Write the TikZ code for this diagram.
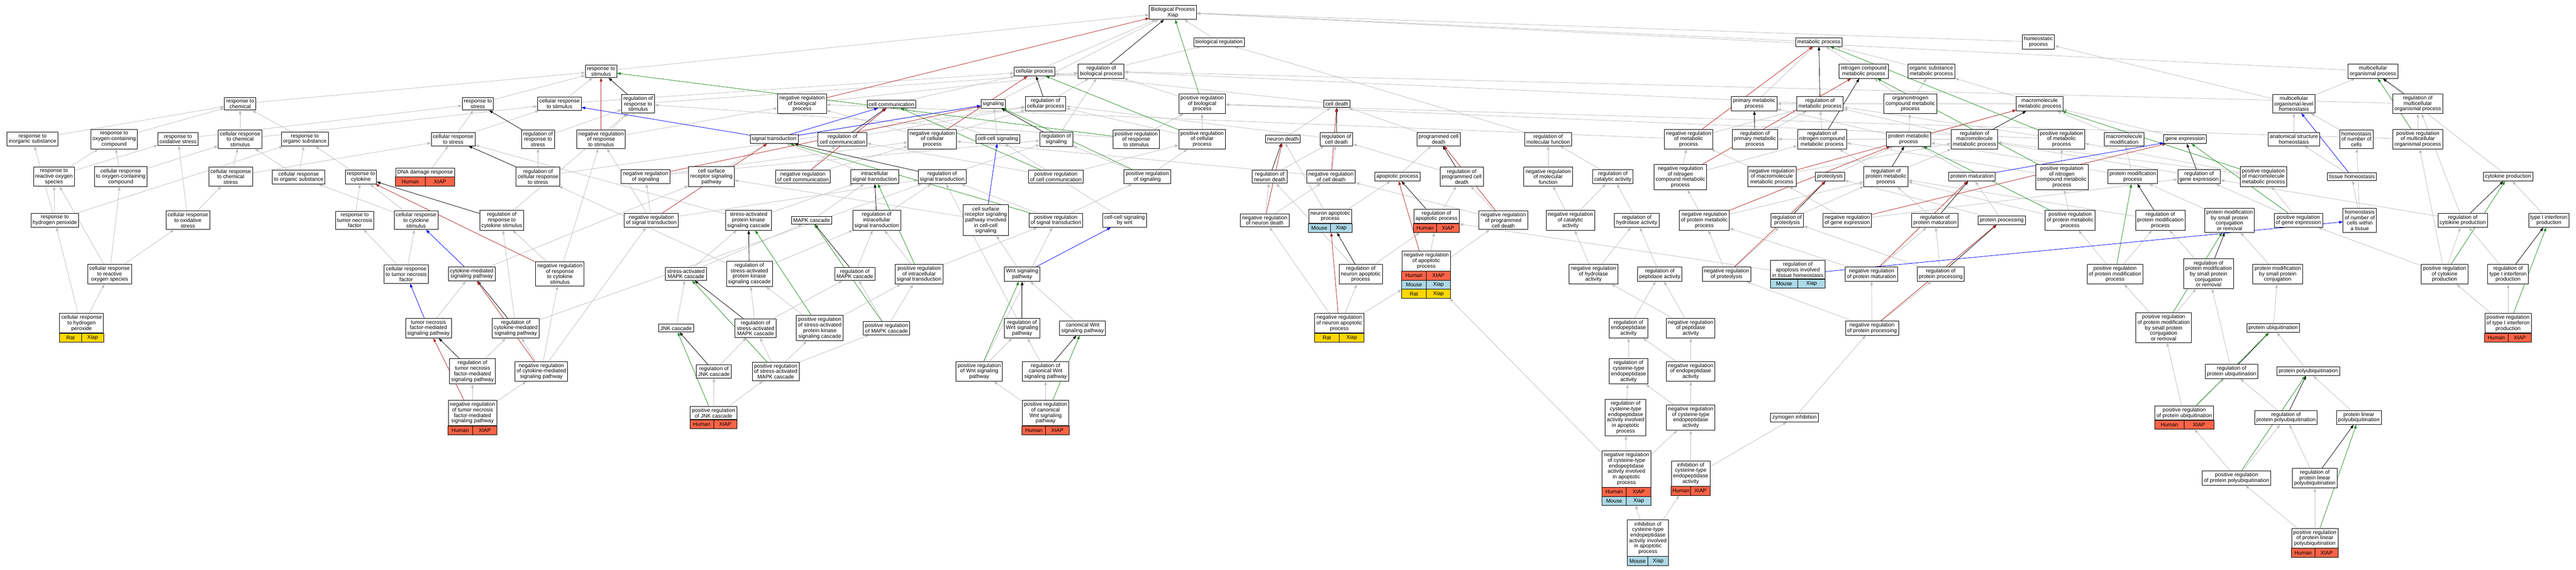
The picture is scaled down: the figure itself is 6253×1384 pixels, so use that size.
\documentclass[tikz,border=0pt]{standalone}
\usepackage{fontspec}
\setmainfont{Liberation Sans}
\usepackage{tikz}
\usetikzlibrary{arrows.meta, fit, backgrounds, calc}
\definecolor{human}{HTML}{FF6347}
\definecolor{mouse}{HTML}{ADD8E6}
\definecolor{rat}{HTML}{FFD700}
\definecolor{isagrey}{HTML}{BEBEBE}
\definecolor{negred}{HTML}{B22222}
\definecolor{posgreen}{HTML}{228B22}
\definecolor{partblue}{HTML}{0000FF}
\tikzstyle{goterm} = [draw=black, line width=1.1pt, fill=white, align=center, inner xsep=4pt, inner ysep=4.5pt, font=\fontsize{13pt}{13.4pt}\selectfont]
\tikzstyle{orgcell} = [draw=black, line width=1.1pt, inner sep=0pt, outer sep=0pt, minimum height=22pt, font=\fontsize{13pt}{13.4pt}\selectfont]
\tikzstyle{link} = [line width=1pt, -{Triangle[length=9pt,width=6.5pt]}]
\tikzstyle{isa} = [link, isagrey]
\tikzstyle{regl} = [link, black]
\tikzstyle{negl} = [link, negred]
\tikzstyle{posl} = [link, posgreen]
\tikzstyle{partl} = [link, partblue]
% one row of species / gene cells under a term
\newcommand{\orgrow}[6]{%
  \path let \p1=($(#1.east)-(#1.west)$) in
    node[orgcell, fill=#4, minimum width=0.5*\x1, anchor=north east] (#3l) at (#2) {#5}
    node[orgcell, fill=#4, minimum width=0.5*\x1, anchor=north west] (#3r) at (#2) {#6};}

\begin{document}
\begin{tikzpicture}[x=1pt,y=-1pt]
\useasboundingbox (0,0) rectangle (6253,1384);
% responses to chemicals
\node[goterm] (resp-chem) at (583,252) {response to\\chemical};
\node[goterm] (resp-inorg) at (79,338) {response to\\inorganic substance};
\node[goterm] (resp-oxcomp) at (277,338) {response to\\oxygen-containing\\compound};
\node[goterm] (resp-oxstress) at (432,338) {response to\\oxidative stress};
\node[goterm] (cr-chem) at (583,338) {cellular response\\to chemical\\stimulus};
\node[goterm] (resp-org) at (740,338) {response to\\organic substance};
\node[goterm] (resp-ros) at (131,429) {response to\\reactive oxygen\\species};
\node[goterm] (cr-oxcomp) at (293,429) {cellular response\\to oxygen-containing\\compound};
\node[goterm] (cr-chemstress) at (560,429) {cellular response\\to chemical\\stress};
\node[goterm] (cr-org) at (725,430) {cellular response\\to organic substance};
\node[goterm] (resp-cyto) at (876,430) {response to\\cytokine};
\node[goterm] (dna-t) at (1032,419) {DNA damage response};
\orgrow{dna-t}{dna-t.south}{dna-h}{human}{Human}{XIAP}
\node[fit=(dna-t)(dna-hl)(dna-hr), inner sep=0pt] (dna) {};
\node[goterm] (resp-h2o2) at (133,535) {response to\\hydrogen peroxide};
\node[goterm] (cr-oxstress) at (456,535) {cellular response\\to oxidative\\stress};
\node[goterm] (resp-tnf) at (861,535) {response to\\tumor necrosis\\factor};
\node[goterm] (cr-cyto) at (1010,535) {cellular response\\to cytokine\\stimulus};
\node[goterm] (cr-ros) at (266,666) {cellular response\\to reactive\\oxygen species};
\node[goterm] (cr-tnf) at (986,666) {cellular response\\to tumor necrosis\\factor};
\node[goterm] (cr-h2o2-t) at (198,785) {cellular response\\to hydrogen\\peroxide};
\orgrow{cr-h2o2-t}{cr-h2o2-t.south}{cr-h2o2-r}{rat}{Rat}{Xiap}
\node[fit=(cr-h2o2-t)(cr-h2o2-rl)(cr-h2o2-rr), inner sep=0pt] (cr-h2o2) {};
\node[goterm] (tnf-sig) at (1040,797) {tumor necrosis\\factor-mediated\\signaling pathway};
% stimulus and signalling
\node[goterm] (resp-stim) at (1459,173) {response to\\stimulus};
\node[goterm] (resp-stress) at (1160,252) {response to\\stress};
\node[goterm] (cr-stim) at (1358,252) {cellular response\\to stimulus};
\node[goterm] (reg-resp-stim) at (1549,252) {regulation of\\response to\\stimulus};
\node[goterm] (neg-bio) at (1947,252) {negative regulation\\of biological\\process};
\node[goterm] (cr-stress) at (1100,338) {cellular response\\to stress};
\node[goterm] (reg-resp-stress) at (1306,338) {regulation of\\response to\\stress};
\node[goterm] (neg-resp-stim) at (1459,338) {negative regulation\\of response\\to stimulus};
\node[goterm] (sig-trans) at (1879,338) {signal transduction};
\node[goterm] (reg-cellcomm) at (2045,338) {regulation of\\cell communication};
\node[goterm] (reg-cr-stress) at (1306,429) {regulation of\\cellular response\\to stress};
\node[goterm] (neg-sig) at (1567,429) {negative regulation\\of signaling};
\node[goterm] (csr) at (1727,429) {cell surface\\receptor signaling\\pathway};
\node[goterm] (neg-cellcomm) at (1949,429) {negative regulation\\of cell communication};
\node[goterm] (intracell) at (2123,429) {intracellular\\signal transduction};
\node[goterm] (reg-resp-cyto) at (1218,535) {regulation of\\response to\\cytokine stimulus};
\node[goterm] (neg-sigtrans) at (1581,535) {negative regulation\\of signal transduction};
\node[goterm] (sapk) at (1817,535) {stress-activated\\protein kinase\\signaling cascade};
\node[goterm] (mapk) at (1970,535) {MAPK cascade};
\node[goterm] (reg-intracell) at (2128,535) {regulation of\\intracellular\\signal transduction};
\node[goterm] (cyto-sig) at (1145,665) {cytokine-mediated\\signaling pathway};
\node[goterm] (neg-resp-cyto) at (1359,665) {negative regulation\\of response\\to cytokine\\stimulus};
\node[goterm] (samapk) at (1665,665) {stress-activated\\MAPK cascade};
\node[goterm] (reg-sapk) at (1819,665) {regulation of\\stress-activated\\protein kinase\\signaling cascade};
\node[goterm] (reg-mapk) at (2075,665) {regulation of\\MAPK cascade};
\node[goterm] (reg-cytosig) at (1252,797) {regulation of\\cytokine-mediated\\signaling pathway};
\node[goterm] (reg-tnfsig) at (1147,902) {regulation of\\tumor necrosis\\factor-mediated\\signaling pathway};
\node[goterm] (neg-cytosig) at (1314,902) {negative regulation\\of cytokine-mediated\\signaling pathway};
\node[goterm] (neg-tnfsig-t) at (1147,1003) {negative regulation\\of tumor necrosis\\factor-mediated\\signaling pathway};
\orgrow{neg-tnfsig-t}{neg-tnfsig-t.south}{neg-tnfsig-h}{human}{Human}{XIAP}
\node[fit=(neg-tnfsig-t)(neg-tnfsig-hl)(neg-tnfsig-hr), inner sep=0pt] (neg-tnfsig) {};
\node[goterm] (jnk) at (1641,797) {JNK cascade};
\node[goterm] (reg-samapk) at (1834,797) {regulation of\\stress-activated\\MAPK cascade};
\node[goterm] (pos-sapk) at (1990,797) {positive regulation\\of stress-activated\\protein kinase\\signaling cascade};
\node[goterm] (reg-jnk) at (1733,902) {regulation of\\JNK cascade};
\node[goterm] (pos-samapk) at (1883,902) {positive regulation\\of stress-activated\\MAPK cascade};
\node[goterm] (pos-jnk-t) at (1732,1003) {positive regulation\\of JNK cascade};
\orgrow{pos-jnk-t}{pos-jnk-t.south}{pos-jnk-h}{human}{Human}{XIAP}
\node[fit=(pos-jnk-t)(pos-jnk-hl)(pos-jnk-hr), inner sep=0pt] (pos-jnk) {};
\node[goterm] (pos-mapk) at (2152,797) {positive regulation\\of MAPK cascade};
% top of the graph
\node[goterm] (bp) at (2847,30) {Biological Process\\Xiap};
\node[goterm] (bio-reg) at (2959,102) {biological regulation};
\node[goterm] (cell-proc) at (2511,174) {cellular process};
\node[goterm] (reg-bio) at (2673,173) {regulation of\\biological process};
\node[goterm] (cell-comm) at (2164,253) {cell communication};
\node[goterm] (signaling) at (2411,252) {signaling};
\node[goterm] (reg-cell) at (2538,252) {regulation of\\cellular process};
\node[goterm] (pos-bio) at (2918,252) {positive regulation\\of biological\\process};
\node[goterm] (neg-cell) at (2263,338) {negative regulation\\of cellular\\process};
\node[goterm] (cell-cell) at (2422,338) {cell-cell signaling};
\node[goterm] (reg-sig) at (2564,338) {regulation of\\signaling};
\node[goterm] (pos-resp-stim) at (2758,338) {positive regulation\\of response\\to stimulus};
\node[goterm] (pos-cell) at (2918,338) {positive regulation\\of cellular\\process};
\node[goterm] (neuron-death) at (3114,338) {neuron death};
\node[goterm] (reg-sigtrans) at (2287,429) {regulation of\\signal transduction};
\node[goterm] (pos-cellcomm) at (2563,429) {positive regulation\\of cell communication};
\node[goterm] (pos-sig) at (2785,429) {positive regulation\\of signaling};
\node[goterm] (reg-ndeath) at (3082,429) {regulation of\\neuron death};
\node[goterm] (csr-cc) at (2393,535) {cell surface\\receptor signaling\\pathway involved\\in cell-cell\\signaling};
\node[goterm] (pos-sigtrans) at (2563,535) {positive regulation\\of signal transduction};
\node[goterm] (cc-wnt) at (2730,535) {cell-cell signaling\\by wnt};
\node[goterm] (neg-ndeath) at (3070,535) {negative regulation\\of neuron death};
\node[goterm] (pos-intracell) at (2231,666) {positive regulation\\of intracellular\\signal transduction};
\node[goterm] (wnt) at (2481,666) {Wnt signaling\\pathway};
\node[goterm] (reg-wnt) at (2481,797) {regulation of\\Wnt signaling\\pathway};
\node[goterm] (can-wnt) at (2628,797) {canonical Wnt\\signaling pathway};
\node[goterm] (pos-wnt) at (2377,902) {positive regulation\\of Wnt signaling\\pathway};
\node[goterm] (reg-canwnt) at (2538,902) {regulation of\\canonical Wnt\\signaling pathway};
\node[goterm] (pos-canwnt-t) at (2538,1003) {positive regulation\\of canonical\\Wnt signaling\\pathway};
\orgrow{pos-canwnt-t}{pos-canwnt-t.south}{pos-canwnt-h}{human}{Human}{XIAP}
\node[fit=(pos-canwnt-t)(pos-canwnt-hl)(pos-canwnt-hr), inner sep=0pt] (pos-canwnt) {};
% cell death and apoptosis
\node[goterm] (cell-death) at (3245,252) {cell death};
\node[goterm] (reg-cdeath) at (3244,338) {regulation of\\cell death};
\node[goterm] (pcd) at (3492,338) {programmed cell\\death};
\node[goterm] (reg-mf) at (3758,338) {regulation of\\molecular function};
\node[goterm] (neg-met) at (4099,338) {negative regulation\\of metabolic\\process};
\node[goterm] (neg-cdeath) at (3231,429) {negative regulation\\of cell death};
\node[goterm] (apop) at (3392,429) {apoptotic process};
\node[goterm] (reg-pcd) at (3548,429) {regulation of\\programmed cell\\death};
\node[goterm] (neg-mf) at (3758,429) {negative regulation\\of molecular\\function};
\node[goterm] (reg-cat) at (3915,429) {regulation of\\catalytic activity};
\node[goterm] (neg-ncmp) at (4079,430) {negative regulation\\of nitrogen\\compound metabolic\\process};
\node[goterm] (nap-t) at (3229,525) {neuron apoptotic\\process};
\orgrow{nap-t}{nap-t.south}{nap-m}{mouse}{Mouse}{Xiap}
\node[fit=(nap-t)(nap-ml)(nap-mr), inner sep=0pt] (nap) {};
\node[goterm] (reg-apop-t) at (3487,525) {regulation of\\apoptotic process};
\orgrow{reg-apop-t}{reg-apop-t.south}{reg-apop-h}{human}{Human}{XIAP}
\node[fit=(reg-apop-t)(reg-apop-hl)(reg-apop-hr), inner sep=0pt] (reg-apop) {};
\node[goterm] (neg-pcd) at (3649,535) {negative regulation\\of programmed\\cell death};
\node[goterm] (neg-cat) at (3812,535) {negative regulation\\of catalytic\\activity};
\node[goterm] (reg-hyd) at (3973,535) {regulation of\\hydrolase activity};
\node[goterm] (neg-prot) at (4137,535) {negative regulation\\of protein metabolic\\process};
\node[goterm] (reg-nap) at (3303,666) {regulation of\\neuron apoptotic\\process};
\node[goterm] (neg-apop-t) at (3462,634) {negative regulation\\of apoptotic\\process};
\orgrow{neg-apop-t}{neg-apop-t.south}{neg-apop-h}{human}{Human}{XIAP}
\orgrow{neg-apop-t}{neg-apop-hl.south east}{neg-apop-m}{mouse}{Mouse}{Xiap}
\orgrow{neg-apop-t}{neg-apop-ml.south east}{neg-apop-r}{rat}{Rat}{Xiap}
\node[fit=(neg-apop-t)(neg-apop-rl)(neg-apop-rr), inner sep=0pt] (neg-apop) {};
\node[goterm] (neg-hyd) at (3868,666) {negative regulation\\of hydrolase\\activity};
\node[goterm] (reg-pep) at (4029,666) {regulation of\\peptidase activity};
\node[goterm] (neg-proteolysis) at (4191,666) {negative regulation\\of proteolysis};
\node[goterm] (neg-nap-t) at (3251,785) {negative regulation\\of neuron apoptotic\\process};
\orgrow{neg-nap-t}{neg-nap-t.south}{neg-nap-r}{rat}{Rat}{Xiap}
\node[fit=(neg-nap-t)(neg-nap-rl)(neg-nap-rr), inner sep=0pt] (neg-nap) {};
\node[goterm] (reg-endo) at (3953,797) {regulation of\\endopeptidase\\activity};
\node[goterm] (neg-pep) at (4104,797) {negative regulation\\of peptidase\\activity};
\node[goterm] (reg-cysendo) at (3953,902) {regulation of\\cysteine-type\\endopeptidase\\activity};
\node[goterm] (neg-endo) at (4104,902) {negative regulation\\of endopeptidase\\activity};
\node[goterm] (reg-cysapop) at (3946,1014) {regulation of\\cysteine-type\\endopeptidase\\activity involved\\in apoptotic\\process};
\node[goterm] (neg-cysendo) at (4104,1014) {negative regulation\\of cysteine-type\\endopeptidase\\activity};
\node[goterm] (neg-cysapop-t) at (3948,1139) {negative regulation\\of cysteine-type\\endopeptidase\\activity involved\\in apoptotic\\process};
\orgrow{neg-cysapop-t}{neg-cysapop-t.south}{neg-cysapop-h}{human}{Human}{XIAP}
\orgrow{neg-cysapop-t}{neg-cysapop-hl.south east}{neg-cysapop-m}{mouse}{Mouse}{Xiap}
\node[fit=(neg-cysapop-t)(neg-cysapop-ml)(neg-cysapop-mr), inner sep=0pt] (neg-cysapop) {};
\node[goterm] (inh-cysendo-t) at (4104,1150) {inhibition of\\cysteine-type\\endopeptidase\\activity};
\orgrow{inh-cysendo-t}{inh-cysendo-t.south}{inh-cysendo-h}{human}{Human}{XIAP}
\node[fit=(inh-cysendo-t)(inh-cysendo-hl)(inh-cysendo-hr), inner sep=0pt] (inh-cysendo) {};
\node[goterm] (inh-cysapop-t) at (4000,1307) {inhibition of\\cysteine-type\\endopeptidase\\activity involved\\in apoptotic\\process};
\orgrow{inh-cysapop-t}{inh-cysapop-t.south}{inh-cysapop-m}{mouse}{Mouse}{Xiap}
\node[fit=(inh-cysapop-t)(inh-cysapop-ml)(inh-cysapop-mr), inner sep=0pt] (inh-cysapop) {};
% metabolism and proteins
\node[goterm] (met-proc) at (4415,102) {metabolic process};
\node[goterm] (homeo) at (4948,102) {homeostatic\\process};
\node[goterm] (ncmp) at (4524,173) {nitrogen compound\\metabolic process};
\node[goterm] (osmp) at (4688,173) {organic substance\\metabolic process};
\node[goterm] (prim-met) at (4258,252) {primary metabolic\\process};
\node[goterm] (reg-met) at (4418,252) {regulation of\\metabolic process};
\node[goterm] (oncmp) at (4637,252) {organonitrogen\\compound metabolic\\process};
\node[goterm] (mac-met) at (4951,252) {macromolecule\\metabolic process};
\node[goterm] (reg-primmet) at (4260,338) {regulation of\\primary metabolic\\process};
\node[goterm] (reg-ncmp) at (4423,338) {regulation of\\nitrogen compound\\metabolic process};
\node[goterm] (prot-met) at (4633,338) {protein metabolic\\process};
\node[goterm] (reg-macmet) at (4793,338) {regulation of\\macromolecule\\metabolic process};
\node[goterm] (pos-met) at (5004,338) {positive regulation\\of metabolic\\process};
\node[goterm] (mac-mod) at (5156,338) {macromolecule\\modification};
\node[goterm] (neg-macmet) at (4301,429) {negative regulation\\of macromolecule\\metabolic process};
\node[goterm] (proteolysis) at (4442,429) {proteolysis};
\node[goterm] (reg-protmet) at (4578,429) {regulation of\\protein metabolic\\process};
\node[goterm] (prot-mat) at (4787,429) {protein maturation};
\node[goterm] (pos-ncmp) at (5005,430) {positive regulation\\of nitrogen\\compound metabolic\\process};
\node[goterm] (prot-mod) at (5177,429) {protein modification\\process};
\node[goterm] (reg-proteolysis) at (4338,535) {regulation of\\proteolysis};
\node[goterm] (neg-geneexp) at (4484,535) {negative regulation\\of gene expression};
\node[goterm] (reg-protmat) at (4697,535) {regulation of\\protein maturation};
\node[goterm] (prot-proc) at (4859,535) {protein processing};
\node[goterm] (pos-protmet) at (5025,535) {positive regulation\\of protein metabolic\\process};
\node[goterm] (reg-protmod) at (5244,535) {regulation of\\protein modification\\process};
\node[goterm] (apop-tissue-t) at (4364,655) {regulation of\\apoptosis involved\\in tissue homeostasis};
\orgrow{apop-tissue-t}{apop-tissue-t.south}{apop-tissue-m}{mouse}{Mouse}{Xiap}
\node[fit=(apop-tissue-t)(apop-tissue-ml)(apop-tissue-mr), inner sep=0pt] (apop-tissue) {};
\node[goterm] (neg-protmat) at (4543,666) {negative regulation\\of protein maturation};
\node[goterm] (reg-protproc) at (4711,666) {regulation of\\protein processing};
\node[goterm] (pos-protmod) at (5134,666) {positive regulation\\of protein modification\\process};
\node[goterm] (neg-protproc) at (4544,797) {negative regulation\\of protein processing};
\node[goterm] (zymogen) at (4356,1014) {zymogen inhibition};
\node[goterm] (pos-pmsp) at (5252,796) {positive regulation\\of protein modification\\by small protein\\conjugation\\or removal};
\node[goterm] (pos-protubiq-t) at (5302,1003) {positive regulation\\of protein ubiquitination};
\orgrow{pos-protubiq-t}{pos-protubiq-t.south}{pos-protubiq-h}{human}{Human}{XIAP}
\node[fit=(pos-protubiq-t)(pos-protubiq-hl)(pos-protubiq-hr), inner sep=0pt] (pos-protubiq) {};
% organism level, homeostasis, cytokines
\node[goterm] (mop) at (5760,173) {multicellular\\organismal process};
\node[goterm] (molh) at (5568,252) {multicellular\\organismal-level\\homeostasis};
\node[goterm] (reg-mop) at (5869,252) {regulation of\\multicellular\\organismal process};
\node[goterm] (gene-exp) at (5304,338) {gene expression};
\node[goterm] (ash) at (5568,338) {anatomical structure\\homeostasis};
\node[goterm] (hnc) at (5720,338) {homeostasis\\of number of\\cells};
\node[goterm] (pos-mop) at (5869,338) {positive regulation\\of multicellular\\organismal process};
\node[goterm] (reg-geneexp) at (5338,429) {regulation of\\gene expression};
\node[goterm] (pos-macmet) at (5494,429) {positive regulation\\of macromolecule\\metabolic process};
\node[goterm] (tissue-h) at (5709,429) {tissue homeostasis};
\node[goterm] (cyto-prod) at (6088,429) {cytokine production};
\node[goterm] (pmsp) at (5412,535) {protein modification\\by small protein\\conjugation\\or removal};
\node[goterm] (pos-geneexp) at (5579,535) {positive regulation\\of gene expression};
\node[goterm] (hnct) at (5728,535) {homeostasis\\of number of\\cells within\\a tissue};
\node[goterm] (reg-cytoprod) at (5978,535) {regulation of\\cytokine production};
\node[goterm] (t1ifn) at (6187,535) {type I interferon\\production};
\node[goterm] (reg-pmsp) at (5361,665) {regulation of\\protein modification\\by small protein\\conjugation\\or removal};
\node[goterm] (pmspc) at (5529,666) {protein modification\\by small protein\\conjugation};
\node[goterm] (pos-cytoprod) at (5934,666) {positive regulation\\of cytokine\\production};
\node[goterm] (reg-t1ifn) at (6088,666) {regulation of\\type I interferon\\production};
\node[goterm] (pos-t1ifn-t) at (6088,785) {positive regulation\\of type I interferon\\production};
\orgrow{pos-t1ifn-t}{pos-t1ifn-t.south}{pos-t1ifn-h}{human}{Human}{XIAP}
\node[fit=(pos-t1ifn-t)(pos-t1ifn-hl)(pos-t1ifn-hr), inner sep=0pt] (pos-t1ifn) {};
\node[goterm] (prot-ubiq) at (5518,797) {protein ubiquitination};
\node[goterm] (reg-protubiq) at (5417,902) {regulation of\\protein ubiquitination};
\node[goterm] (prot-poly) at (5603,902) {protein polyubiquitination};
\node[goterm] (reg-protpoly) at (5549,1014) {regulation of\\protein polyubiquitination};
\node[goterm] (p-linear) at (5726,1014) {protein linear\\polyubiquitination};
\node[goterm] (pos-protpoly) at (5429,1161) {positive regulation\\of protein polyubiquitination};
\node[goterm] (reg-plinear) at (5619,1161) {regulation of\\protein linear\\polyubiquitination};
\node[goterm] (pos-plinear-t) at (5619,1307) {positive regulation\\of protein linear\\polyubiquitination};
\orgrow{pos-plinear-t}{pos-plinear-t.south}{pos-plinear-h}{human}{Human}{XIAP}
\node[fit=(pos-plinear-t)(pos-plinear-hl)(pos-plinear-hr), inner sep=0pt] (pos-plinear) {};

\begin{scope}[on background layer]
\fill[white] (0,0) rectangle (6253,1384);
% is_a
\foreach \a/\b in {resp-stim/bp, cell-proc/bp, bio-reg/bp, met-proc/bp, homeo/bp, mop/bp, signaling/bp,
  reg-bio/bio-reg, reg-mf/bio-reg, pos-bio/reg-bio, neg-bio/reg-bio, reg-cell/reg-bio, reg-resp-stim/reg-bio,
  reg-met/reg-bio, reg-mop/reg-bio, reg-sig/reg-bio,
  resp-chem/resp-stim, resp-stress/resp-stim, cr-stim/resp-stim, cr-stim/cell-proc,
  neg-cell/neg-bio, neg-cell/reg-cell, pos-cell/pos-bio, pos-cell/reg-cell,
  neg-resp-stim/reg-resp-stim, neg-resp-stim/neg-bio, pos-resp-stim/reg-resp-stim, pos-resp-stim/pos-bio,
  cr-stress/resp-stress, cr-stress/cr-stim, reg-resp-stress/reg-resp-stim,
  reg-cr-stress/reg-resp-stress, reg-cr-stress/reg-cell, dna/cr-stress,
  cr-chem/resp-chem, cr-chem/cr-stim, resp-inorg/resp-chem, resp-oxcomp/resp-chem,
  resp-oxstress/resp-stress, resp-org/resp-chem, resp-ros/resp-oxcomp, resp-ros/resp-oxstress,
  cr-oxcomp/resp-oxcomp, cr-oxcomp/cr-chem, cr-chemstress/cr-chem, cr-chemstress/cr-stress,
  cr-org/resp-org, cr-org/cr-chem, resp-cyto/resp-org,
  resp-h2o2/resp-inorg, resp-h2o2/resp-ros, resp-h2o2/resp-org,
  cr-oxstress/resp-oxstress, cr-oxstress/cr-chemstress, resp-tnf/resp-cyto,
  cr-cyto/resp-cyto, cr-cyto/cr-org, cr-ros/resp-ros, cr-ros/cr-oxcomp, cr-ros/cr-oxstress,
  cr-tnf/resp-tnf, cr-tnf/cr-cyto, cr-h2o2/resp-h2o2, cr-h2o2/cr-ros,
  cyto-sig/csr, tnf-sig/cyto-sig,
  reg-resp-cyto/reg-resp-stim, neg-resp-cyto/reg-resp-cyto, neg-resp-cyto/neg-resp-stim,
  reg-cytosig/reg-resp-cyto, reg-cytosig/reg-sigtrans,
  neg-cytosig/reg-cytosig, neg-cytosig/neg-resp-cyto, neg-cytosig/neg-sigtrans,
  reg-tnfsig/reg-cytosig, neg-tnfsig/reg-tnfsig, neg-tnfsig/neg-cytosig,
  sig-trans/signaling, reg-cellcomm/reg-cell, neg-sig/reg-sig, neg-sig/neg-cell, csr/sig-trans,
  neg-cellcomm/reg-cellcomm, neg-cellcomm/neg-cell, intracell/sig-trans,
  neg-sigtrans/reg-sigtrans, neg-sigtrans/neg-sig, neg-sigtrans/neg-resp-stim,
  sapk/intracell, sapk/cr-stress, mapk/intracell, reg-intracell/reg-sigtrans,
  samapk/sapk, samapk/mapk, reg-sapk/reg-intracell, reg-sapk/reg-cr-stress, reg-mapk/reg-intracell,
  jnk/samapk, reg-samapk/reg-sapk, reg-samapk/reg-mapk, pos-sapk/reg-sapk, pos-sapk/pos-intracell,
  reg-jnk/reg-samapk, pos-samapk/reg-samapk, pos-samapk/pos-sapk, pos-samapk/pos-mapk,
  pos-jnk/reg-jnk, pos-jnk/pos-samapk, pos-mapk/reg-mapk, pos-mapk/pos-intracell,
  pos-intracell/reg-intracell, pos-intracell/pos-sigtrans,
  cell-comm/cell-proc, cell-cell/cell-comm, cell-cell/signaling,
  pos-sig/reg-sig, pos-sig/pos-cell, pos-cellcomm/reg-cellcomm, pos-cellcomm/pos-cell,
  neuron-death/cell-death, cell-death/cell-proc,
  reg-ndeath/reg-cdeath, neg-ndeath/reg-ndeath, neg-ndeath/neg-cdeath, reg-sigtrans/reg-sig,
  csr-cc/csr, pos-sigtrans/reg-sigtrans, pos-sigtrans/pos-sig, cc-wnt/cell-cell, wnt/csr-cc,
  reg-wnt/reg-sigtrans, can-wnt/wnt, pos-wnt/reg-wnt, pos-wnt/pos-sigtrans, reg-canwnt/reg-wnt,
  pos-canwnt/reg-canwnt, pos-canwnt/pos-wnt,
  reg-cdeath/reg-cell, neg-cdeath/reg-cdeath, neg-cdeath/neg-cell, pcd/cell-death, apop/pcd,
  reg-pcd/reg-cdeath, neg-pcd/reg-pcd, neg-pcd/neg-cdeath, nap/apop, nap/neuron-death,
  reg-apop/reg-pcd, reg-nap/reg-apop, reg-nap/reg-ndeath, neg-apop/reg-apop, neg-apop/neg-pcd,
  neg-nap/reg-nap, neg-nap/neg-apop, neg-nap/neg-ndeath,
  neg-mf/reg-mf, reg-cat/reg-mf, neg-cat/neg-mf, neg-cat/reg-cat, reg-hyd/reg-cat,
  neg-hyd/neg-cat, neg-hyd/reg-hyd, reg-pep/reg-hyd, neg-pep/reg-pep, neg-pep/neg-hyd,
  reg-endo/reg-pep, neg-endo/reg-endo, neg-endo/neg-pep, reg-cysendo/reg-endo,
  neg-cysendo/reg-cysendo, neg-cysendo/neg-endo, reg-cysapop/reg-cysendo,
  neg-cysapop/reg-cysapop, neg-cysapop/neg-cysendo, neg-cysapop/neg-apop,
  inh-cysendo/neg-cysendo, inh-cysendo/zymogen, inh-cysapop/neg-cysapop, inh-cysapop/inh-cysendo,
  zymogen/neg-protproc, neg-protproc/reg-protproc, neg-protproc/neg-protmat, neg-protproc/neg-proteolysis,
  neg-met/reg-met, neg-met/neg-bio, neg-ncmp/neg-met, neg-ncmp/reg-ncmp,
  neg-prot/neg-ncmp, neg-prot/reg-protmet, neg-proteolysis/reg-proteolysis, neg-proteolysis/neg-prot,
  ncmp/met-proc, osmp/met-proc, prim-met/met-proc, oncmp/ncmp, oncmp/osmp,
  mac-met/osmp, mac-met/prim-met, reg-primmet/reg-met, reg-ncmp/reg-met,
  prot-met/oncmp, prot-met/mac-met, prot-met/prim-met, reg-macmet/reg-met, reg-macmet/reg-primmet,
  pos-met/reg-met, pos-met/pos-bio, mac-mod/mac-met, neg-macmet/reg-macmet, neg-macmet/neg-met,
  proteolysis/prot-met, reg-protmet/reg-macmet, reg-protmet/reg-ncmp, prot-mat/prot-met,
  pos-ncmp/pos-met, pos-ncmp/reg-ncmp, prot-mod/mac-mod, prot-mod/prot-met,
  reg-proteolysis/reg-protmet, neg-geneexp/reg-geneexp, neg-geneexp/neg-macmet,
  reg-protmat/reg-protmet, prot-proc/prot-mat, prot-proc/proteolysis,
  pos-protmet/pos-ncmp, pos-protmet/reg-protmet, reg-protmod/reg-protmet,
  neg-protmat/reg-protmat, neg-protmat/neg-prot, reg-protproc/reg-protmat, reg-protproc/reg-proteolysis,
  pos-protmod/reg-protmod, pos-protmod/pos-protmet, gene-exp/mac-met, reg-geneexp/reg-macmet,
  pos-macmet/reg-macmet, pos-macmet/pos-met, pos-geneexp/reg-geneexp, pos-geneexp/pos-macmet,
  pmsp/prot-mod, reg-pmsp/reg-protmod, pos-pmsp/reg-pmsp, pos-pmsp/pos-protmod,
  pmspc/pmsp, prot-ubiq/pmspc, reg-protubiq/reg-pmsp, pos-protubiq/reg-protubiq, pos-protubiq/pos-pmsp,
  prot-poly/prot-ubiq, reg-protpoly/reg-protubiq, p-linear/prot-poly,
  pos-protpoly/reg-protpoly, pos-protpoly/pos-protubiq, reg-plinear/reg-protpoly,
  pos-plinear/reg-plinear, pos-plinear/pos-protpoly,
  molh/mop, molh/homeo, ash/molh, hnc/molh, pos-mop/reg-mop, pos-mop/pos-bio,
  tissue-h/ash, cyto-prod/mop, hnct/tissue-h, hnct/hnc,
  reg-cytoprod/reg-mop, reg-cytoprod/reg-geneexp, t1ifn/cyto-prod,
  pos-cytoprod/reg-cytoprod, pos-cytoprod/pos-mop, pos-cytoprod/pos-geneexp,
  reg-t1ifn/reg-cytoprod, pos-t1ifn/reg-t1ifn, pos-t1ifn/pos-cytoprod, apop-tissue/reg-apop}
  \draw[isa] (\a) -- (\b);
% regulates
\foreach \a/\b in {reg-resp-cyto/resp-cyto, reg-tnfsig/tnf-sig, reg-cytosig/cyto-sig,
  reg-resp-stress/resp-stress, reg-cr-stress/cr-stress, reg-resp-stim/resp-stim,
  reg-cellcomm/cell-comm, reg-sig/signaling, reg-cell/cell-proc, reg-bio/bp, reg-sigtrans/sig-trans,
  reg-intracell/intracell, reg-wnt/wnt, reg-canwnt/can-wnt, reg-ndeath/neuron-death,
  reg-sapk/sapk, reg-mapk/mapk, reg-samapk/samapk, reg-jnk/jnk, reg-cdeath/cell-death,
  reg-pcd/pcd, reg-apop/apop, reg-nap/nap, reg-macmet/mac-met, reg-met/met-proc, reg-ncmp/ncmp,
  reg-primmet/prim-met, reg-protmet/prot-met, reg-proteolysis/proteolysis, reg-protmat/prot-mat,
  reg-protproc/prot-proc, reg-geneexp/gene-exp, reg-protmod/prot-mod, reg-pmsp/pmsp,
  reg-protubiq/prot-ubiq, reg-protpoly/prot-poly, reg-plinear/p-linear, reg-mop/mop,
  reg-cytoprod/cyto-prod, reg-t1ifn/t1ifn}
  \draw[regl] (\a) -- (\b);
% negatively regulates
\foreach \a/\b in {neg-resp-cyto/resp-cyto, neg-tnfsig/tnf-sig, neg-cytosig/cyto-sig,
  neg-resp-stim/resp-stim, neg-bio/bp, neg-sig/signaling, neg-sigtrans/sig-trans,
  neg-cellcomm/cell-comm, neg-cell/cell-proc, neg-ndeath/neuron-death, neg-cdeath/cell-death,
  neg-pcd/pcd, neg-apop/apop, neg-nap/nap, neg-met/met-proc, neg-ncmp/ncmp, neg-prot/prot-met,
  neg-proteolysis/proteolysis, neg-macmet/mac-met, neg-geneexp/gene-exp, neg-protmat/prot-mat,
  neg-protproc/prot-proc}
  \draw[negl] (\a) -- (\b);
% positively regulates
\foreach \a/\b in {pos-resp-stim/resp-stim, pos-cellcomm/cell-comm, pos-sig/signaling,
  pos-cell/cell-proc, pos-bio/bp, pos-sigtrans/sig-trans, pos-intracell/intracell, pos-wnt/wnt,
  pos-canwnt/can-wnt, pos-sapk/sapk, pos-mapk/mapk, pos-samapk/samapk, pos-jnk/jnk,
  pos-macmet/mac-met, pos-met/met-proc, pos-ncmp/ncmp, pos-protmet/prot-met, pos-geneexp/gene-exp,
  pos-protmod/prot-mod, pos-pmsp/pmsp, pos-protubiq/prot-ubiq, pos-protpoly/prot-poly,
  pos-plinear/p-linear, pos-mop/mop, pos-cytoprod/cyto-prod, pos-t1ifn/t1ifn}
  \draw[posl] (\a) -- (\b);
% part of
\foreach \a/\b in {tnf-sig/cr-tnf, cyto-sig/cr-cyto, sig-trans/cr-stim, sig-trans/cell-comm,
  sig-trans/signaling, csr-cc/cell-cell, wnt/cc-wnt, prot-mat/gene-exp, apop-tissue/hnct, tissue-h/molh}
  \draw[partl] (\a) -- (\b);
\end{scope}
\end{tikzpicture}
\end{document}
